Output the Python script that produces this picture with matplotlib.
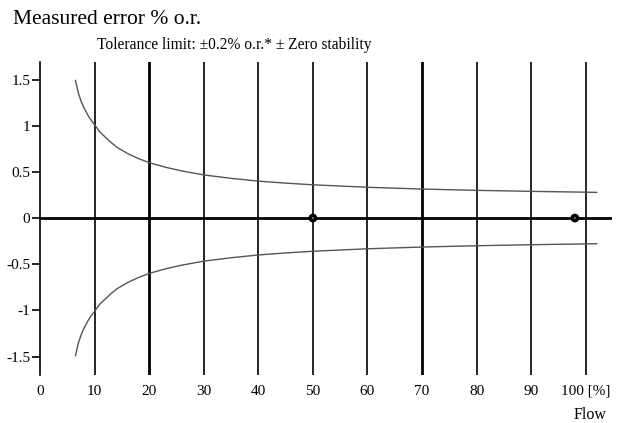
import matplotlib
matplotlib.use("Agg")
import matplotlib.pyplot as plt

# Data
flow = [6.5, 7, 7.5, 8, 9, 10, 11, 12.8, 14, 16, 18, 20, 23, 26, 30, 35, 40, 45, 50, 60, 70, 80, 90, 100, 102]
upper = [1.49, 1.36, 1.27, 1.2, 1.09, 1.01, 0.93, 0.83, 0.77, 0.70, 0.645, 0.60, 0.55, 0.51, 0.467, 0.43, 0.40, 0.378, 0.36, 0.333, 0.314, 0.30, 0.289, 0.28, 0.278]
lower = [-v for v in upper]
marker_x = [50, 98]
marker_y = [0, 0]
xticks = [0, 10, 20, 30, 40, 50, 60, 70, 80, 90, 100]
xticklabels = ["0", "10", "20", "30", "40", "50", "60", "70", "80", "90", "100 [%]"]
yticks = [1.5, 1, 0.5, 0, -0.5, -1, -1.5]
yticklabels = ["1.5", "1", "0.5", "0", "-0.5", "-1", "-1.5"]
grid_x = [10, 20, 30, 40, 50, 60, 70, 80, 90, 100]
bold_x = [20, 70]

plt.rcParams['font.family'] = ['Liberation Serif', 'DejaVu Serif']

fig = plt.figure(figsize=(6.25, 4.23), dpi=100)
ax = fig.add_axes([40/625, 48/423, 572/625, 313/423])
ax.set_xlim(0, 104.8)
ax.set_ylim(-1.70, 1.69)

for gx in grid_x:
    lw = 2.0 if gx in bold_x else 1.2
    ax.axvline(gx, color='black', lw=lw, zorder=1)

ax.axhline(0, color='black', lw=2.0, zorder=2)
ax.plot(flow, upper, color='#555555', lw=1.0, zorder=3)
ax.plot(flow, lower, color='#555555', lw=1.0, zorder=3)
ax.scatter(marker_x, marker_y, s=40, facecolor='black', edgecolor='none', zorder=4)
ax.scatter(marker_x, marker_y, s=1.2, facecolor='#dddddd', edgecolor='none', zorder=5)

for s in ['top', 'right', 'bottom']:
    ax.spines[s].set_visible(False)
ax.spines['left'].set_linewidth(1.2)

ax.set_yticks(yticks)
ax.set_yticklabels(yticklabels, fontsize=11)
ax.tick_params(axis='y', length=6, width=1.2, pad=1)
ax.set_xticks(xticks)
ax.set_xticklabels(xticklabels, fontsize=11)
ax.tick_params(axis='x', length=0, pad=7)

fig.text(13/625, 1 - 20/423, "Measured error % o.r.", fontsize=15.5, ha='left', va='center')
fig.text(97/625, 1 - 45/423, "Tolerance limit: \u00b10.2% o.r.* \u00b1 Zero stability", fontsize=11.2, ha='left', va='center')
fig.text(590/625, 1 - 415/423, "Flow", fontsize=11.5, ha='center', va='center')

fig.savefig("out.png", dpi=100)
